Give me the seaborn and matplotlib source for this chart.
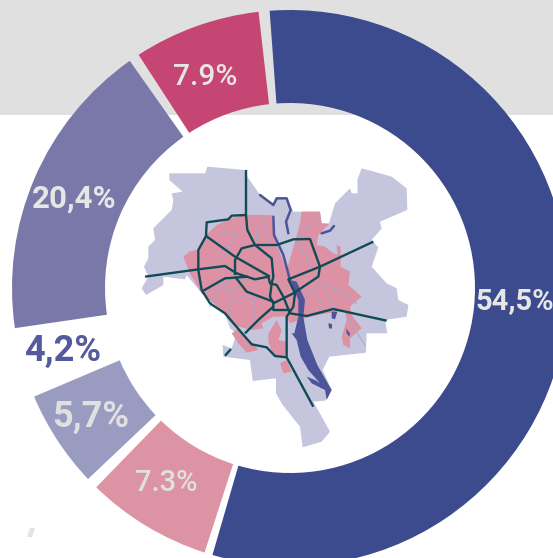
import seaborn as sns
import matplotlib
matplotlib.use("Agg")
import matplotlib.pyplot as plt
from matplotlib.patches import Polygon, Rectangle

sns.set_theme(style="white")
plt.rcParams['font.family'] = ['Roboto', 'DejaVu Sans']

# data: segments with the arc each one fills on the picture (degrees, clockwise from blue), gaps included
arc_degrees = [200.4, 1.7, 26.3, 2.4, 20.4, 14.7, 63.1, 2.2, 26.5, 2.3]
arc_colors = ["#3c4b8d", "none", "#dc94a5", "none", "#9a9bc1", "none", "#7a78a9", "none", "#c64673", "none"]
start_angle_deg = 94.2

labels = ["54,5%", "7.3%", "5,7%", "4,2%", "20,4%", "7.9%"]
label_colors = ["#e6e6e6", "#e0e0e0", "#e0e0e0", "#55599d", "#e6e6e6", "#e6e6e6"]
label_xy = [(515, 301), (166, 483), (91, 417), (63, 351), (74, 199), (205, 77)]
label_sizes = [21, 21, 26, 26, 22.5, 21.5]
label_weights = ["bold", "medium", "bold", "bold", "bold", "medium"]

# map outlines in map units
district = [(118,40),(225,40),(232,20),(345,30),(352,50),(390,105),(430,130),(440,115),(470,115),(490,155),
            (570,155),(575,190),(597,190),(615,130),(660,85),(665,100),(683,100),(682,60),(695,25),(750,40),
            (785,50),(830,85),(832,150),(750,185),(755,205),(725,240),(745,262),(725,320),(770,370),(800,385),
            (805,420),(835,435),(830,470),(765,480),(772,520),(710,520),(708,578),(598,590),(578,630),(605,690),
            (585,722),(550,725),(600,815),(575,845),(518,862),(510,800),(458,735),(438,700),(438,655),(368,663),
            (360,600),(280,590),(278,555),(305,565),(320,520),(300,505),(285,460),(215,400),(170,345),(165,358),
            (100,350),(100,375),(48,405),(35,385),(55,350),(42,320),(55,295),(55,260),(75,240),(70,205),
            (105,170),(125,150),(130,120),(125,100),(158,95),(118,60)]
city = [(160,290),(178,275),(205,268),(228,225),(260,195),(305,175),(345,165),(425,165),(435,240),(470,330),
        (495,245),(510,190),(515,155),(570,155),(575,190),(597,192),(565,225),(560,255),(585,260),(610,280),
        (622,285),(620,255),(632,260),(632,320),(660,335),(655,375),(695,410),(660,440),(665,465),(695,505),
        (660,535),(660,565),(640,555),(635,530),(650,480),(645,450),(540,470),(480,490),(470,470),(430,470),
        (395,490),(400,505),(370,510),(345,505),(310,495),(280,455),(215,400),(180,340)]
city_patches = [
    [(305,520),(325,505),(345,530),(370,550),(385,570),(350,578),(325,550)],
    [(415,520),(440,480),(455,510),(445,540),(470,545),(465,590),(430,590),(415,545)],
    [(450,610),(470,600),(485,635),(460,640)],
]
river_main = [(480,360),(500,365),(525,420),(520,470),(532,540),(562,615),(605,690),(590,720),(585,690),(545,670),
              (530,650),(555,660),(570,670),(535,630),(512,590),(500,540),(485,520),(493,520),(505,470),(505,420)]
river_lines = [
    [(390,105),(430,135),(440,115),(470,115),(482,150),(468,185),(475,220)],
    [(430,170),(432,225),(460,285),(480,360)],
    [(575,220),(600,212),(612,198)],
]
lakes = [[(605,455),(622,455),(615,478),(605,475)], [(595,490),(606,492),(606,506),(597,505)],
         [(648,505),(660,520),(658,530),(650,520)]]
streets = [
    [(375,165),(380,240)], [(395,165),(415,245)], [(270,215),(320,225),(275,290),(275,360),(300,405),(345,355)],
    [(300,470),(300,430),(340,410),(375,420),(375,470)], [(240,440),(260,390),(310,350)],
    [(570,365),(640,400),(680,430)], [(530,410),(570,365)], [(560,400),(580,450)], [(590,390),(610,445)],
    [(650,470),(705,555)], [(510,225),(560,170)], [(500,240),(545,320)], [(205,310),(230,310)],
]
roads = [
    [(348,30),(348,165),(352,210),(375,255),(425,295),(430,350),(425,370),(420,410),(430,430)],
    [(348,165),(305,167),(295,178),(230,187),(228,228),(205,270),(205,330),(215,390),(240,430),(285,460),
     (315,495),(345,530),(365,553),(410,562),(435,588),(470,592),(550,740)],
    [(45,350),(205,328),(285,318),(320,340),(375,358),(415,350),(420,370),(440,375),(460,410),(480,460),
     (530,468),(610,447),(770,482)],
    [(228,228),(315,290),(420,350)],
    [(315,345),(315,300),(335,265),(375,255),(440,255),(490,238),(540,237),(570,320),(565,350),(490,400),(430,430)],
    [(315,350),(350,395),(430,425),(430,450),(480,450)],
    [(220,392),(285,355),(355,350)],
    [(345,520),(390,475),(430,440)],
    [(285,587),(303,567)],
    [(470,590),(470,470),(490,440),(495,400),(475,358),(570,320),(730,245)],
]
speck = [(27, 537), (30, 528), (35, 528), (32, 537)]

W, H = 553, 558
fig = plt.figure(figsize=(W / 100, H / 100), dpi=100, facecolor="white")
ax = fig.add_axes([0, 0, 1, 1])
ax.add_patch(Rectangle((0, 0), W, 115, color="#e0e0e0", lw=0, zorder=0))

cx, cy, R, r = 290, 288, 278, 185
# the y axis is inverted, so a counter-clockwise pie in data space runs clockwise on the page
ax.pie(arc_degrees, colors=arc_colors, center=(cx, cy), radius=R, startangle=-start_angle_deg,
       counterclock=True, wedgeprops=dict(width=R - r, linewidth=0))
ax.set_xlim(0, W)
ax.set_ylim(H, 0)
ax.set_aspect("equal")
ax.axis("off")

ax.add_patch(Polygon(speck, closed=True, color="#e3e3e3", lw=0))
for txt, col, (x, y), fs, fw in zip(labels, label_colors, label_xy, label_sizes, label_weights):
    ax.text(x, y, txt, color=col, fontsize=fs, fontweight=fw, ha="center", va="center", zorder=5)

mp = fig.add_axes([130 / W, 1 - 460 / H, 280 / W, 300 / H])
mp.patch.set_alpha(0)
mp.set_xlim(0, 840)
mp.set_ylim(900, 0)
mp.axis("off")
mp.add_patch(Polygon(district, closed=True, color="#c5c6de", lw=0, zorder=1))
for poly in [city] + city_patches:
    mp.add_patch(Polygon(poly, closed=True, color="#dc92a4", lw=0, zorder=2))
for s in streets:
    mp.plot(*zip(*s), color="#a3a6cf", lw=0.7, zorder=3)
mp.add_patch(Polygon(river_main, closed=True, color="#4d5499", lw=0, zorder=4))
for l in river_lines:
    mp.plot(*zip(*l), color="#4d5499", lw=1.8, zorder=4)
for l in lakes:
    mp.add_patch(Polygon(l, closed=True, color="#4d5499", lw=0, zorder=4))
for rd in roads:
    mp.plot(*zip(*rd), color="#0e4b55", lw=1.7, zorder=6, solid_joinstyle="round", solid_capstyle="butt")

fig.savefig("out.png", dpi=100)
